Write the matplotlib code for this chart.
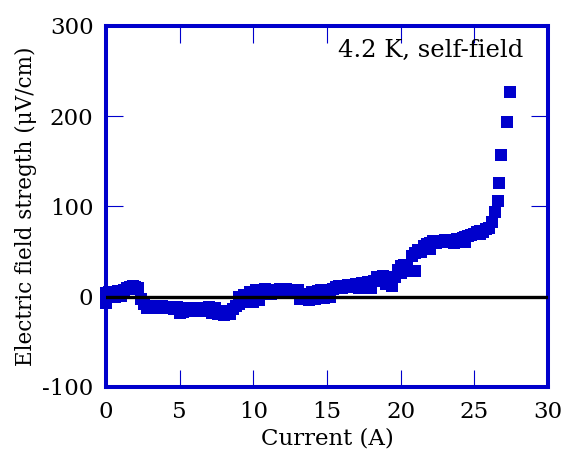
import matplotlib
matplotlib.use("Agg")
import matplotlib.pyplot as plt

current = [
    0.0, 0.0, 0.2, 0.2, 0.4, 0.4, 0.6, 0.6, 0.8, 0.8, 1.0, 1.0,
    1.2, 1.4, 1.6, 1.6, 1.8, 2.0, 2.0, 2.2, 2.4, 2.6, 2.8, 3.0,
    3.2, 3.4, 3.6, 3.8, 4.0, 4.2, 4.4, 4.6, 4.8, 5.0, 5.2, 5.4,
    5.6, 5.8, 6.0, 6.2, 6.4, 6.6, 6.8, 7.0, 7.2, 7.4, 7.6, 7.8,
    8.0, 8.2, 8.4, 8.6, 8.8, 9.0, 9.0, 9.2, 9.4, 9.6, 9.8, 10.0,
    10.0, 10.2, 10.4, 10.4, 10.6, 10.8, 11.0, 11.2, 11.4, 11.6, 11.8, 12.0,
    12.2, 12.4, 12.6, 12.8, 13.0, 13.2, 13.4, 13.6, 13.8, 14.0, 14.2, 14.4,
    14.6, 14.8, 15.0, 15.2, 15.4, 15.6, 15.8, 16.0, 16.2, 16.4, 16.6, 16.8,
    17.0, 17.2, 17.4, 17.6, 17.8, 18.0, 18.0, 18.2, 18.4, 18.6, 18.8, 19.0,
    19.2, 19.4, 19.6, 19.8, 20.0, 20.0, 20.2, 20.4, 20.6, 20.8, 21.0, 21.0,
    21.2, 21.4, 21.6, 21.8, 22.0, 22.0, 22.2, 22.4, 22.6, 22.8, 23.0, 23.2,
    23.4, 23.6, 23.8, 24.0, 24.2, 24.4, 24.4, 24.6, 24.8, 25.0, 25.2, 25.4,
    25.4, 25.6, 25.8, 26.0, 26.2, 26.4, 26.6, 26.7, 26.8, 27.25, 27.4,
]
field = [
    4, -7, 5, 0, 4, 1, 5, 0, 6, 1, 4, 1,
    7, 10, 11, 9, 12, 11, 9, 10, -2, -8, -12, -10,
    -13, -11, -12, -10, -13, -11, -12, -14, -11, -18, -17, -13,
    -16, -12, -15, -13, -16, -12, -14, -11, -18, -12, -19, -17,
    -20, -16, -19, -14, -10, -8, 0, -6, 2, -2, 5, 4,
    -6, 7, 8, -4, 6, 9, 6, 3, 8, 5, 9, 7,
    9, 6, 8, 5, 7, -3, 3, 1, -4, 5, -2, 6,
    8, -1, 5, 0, 9, 11, 12, 10, 12, 13, 11, 13,
    14, 10, 15, 14, 16, 15, 10, 17, 22, 18, 23, 14,
    19, 12, 22, 30, 34, 26, 35, 33, 28, 45, 48, 28,
    52, 50, 56, 58, 60, 53, 62, 60, 62, 61, 63, 61,
    62, 60, 64, 62, 65, 66, 61, 67, 68, 70, 72, 73,
    69, 72, 75, 76, 83, 94, 106, 126, 157, 194, 227,
]

xticks = [0, 5, 10, 15, 20, 25, 30]
yticks = [-100, 0, 100, 200, 300]
ytick_labels = ["-100", "0", "100", "200", "300"]

blue = "#0000cc"
plt.rcParams["font.family"] = ["DejaVu Serif"]

fig = plt.figure(figsize=(5.72, 4.55), dpi=100)
ax = fig.add_axes([0.1853, 0.1495, 0.7727, 0.7934])

ax.plot(current, field, linestyle="none", marker="s", markersize=9.2,
        markeredgewidth=0, color=blue, clip_on=False, zorder=2)
ax.axhline(0, color="black", linewidth=2.4, zorder=3)

ax.set_xlim(0, 30)
ax.set_ylim(-100, 300)
ax.set_xticks(xticks)
ax.set_yticks(yticks)
ax.set_yticklabels(ytick_labels)

for sp in ax.spines.values():
    sp.set_color(blue)
    sp.set_linewidth(2.9)

ax.tick_params(axis="both", which="both", direction="in", length=12, width=0.8,
               color=blue, top=True, right=True, labelsize=16.5)
ax.tick_params(axis="x", pad=10)
ax.tick_params(axis="y", pad=9)

ax.set_xlabel("Current (A)", fontsize=16.5, labelpad=3)
ax.set_ylabel("Electric field stregth (μV/cm)", fontsize=15.5, labelpad=4)

ax.text(0.945, 0.915, "4.2 K, self-field", transform=ax.transAxes,
        ha="right", va="baseline", fontsize=17.5)

fig.savefig("out.png", dpi=100)
